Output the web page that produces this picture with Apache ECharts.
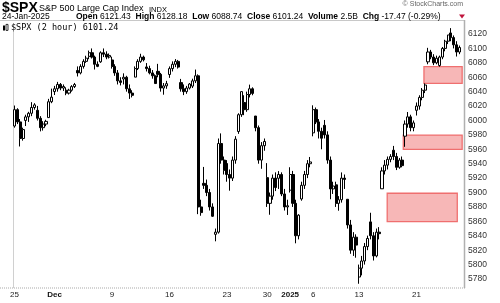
<!DOCTYPE html>
<html><head><meta charset="utf-8">
<script src="https://cdn.jsdelivr.net/npm/echarts@6/dist/echarts.min.js"></script>
<style>html,body{margin:0;padding:0;background:#fff}#c{width:500px;height:303px}</style>
</head><body><div id="c"></div>
<script>
// trading days and number of 2-hour bars in each
const days = [
 ['2024-11-25',4],['2024-11-26',4],['2024-11-27',4],['2024-11-29',2],
 ['2024-12-02',4],['2024-12-03',4],['2024-12-04',4],['2024-12-05',4],['2024-12-06',4],
 ['2024-12-09',4],['2024-12-10',4],['2024-12-11',4],['2024-12-12',4],['2024-12-13',4],
 ['2024-12-16',4],['2024-12-17',4],['2024-12-18',4],['2024-12-19',4],['2024-12-20',4],
 ['2024-12-23',4],['2024-12-24',2],['2024-12-26',4],['2024-12-27',4],
 ['2024-12-30',4],['2024-12-31',4],['2025-01-02',4],['2025-01-03',4],
 ['2025-01-06',4],['2025-01-07',4],['2025-01-08',4],['2025-01-10',4],
 ['2025-01-13',4],['2025-01-14',4],['2025-01-15',4],['2025-01-16',4],['2025-01-17',4],
 ['2025-01-21',4],['2025-01-22',4],['2025-01-23',4],['2025-01-24',4]
];
const sessions = ['09:30','11:30','13:30','15:30'];

const opens = [
 5992.28,6015,5998,5975, 6000.03,6005,6010,6018, 6014.11,6003,5990,5995, 6003.98,6026,
 6040.11,6044,6050,6045, 6041.95,6038,6042,6047, 6069.39,6066,6075,6082, 6089.03,6094,6088,6078, 6081.38,6094,6092,6088,
 6083.99,6075,6066,6055, 6057.59,6060,6044,6038, 6060.15,6072,6082,6088, 6074.29,6072,6066,6062, 6068.17,6064,6045,6048,
 6063.79,6072,6078,6082, 6052.55,6044,6040,6045, 6047.65,6055,6062,5880, 5912.71,5910,5900,5880, 5842.00,5845,5968,5945,
 5940.25,5925,5920,5945, 5984.74,6008, 6024.97,6015,6036,6044, 6006.17,5990,5945,5965,
 5920.67,5885,5895,5920, 5919.74,5925,5898,5880, 5903.26,5925,5885,5840, 5891.07,5910,5925,5940,
 5982.81,6015,5998,5985, 5993.26,5980,5945,5905, 5910.66,5885,5890,5920, 5890.66,5855,5820,5838,
 5782.72,5795,5805,5825, 5859.25,5840,5812,5845, 5905.21,5930,5938,5946, 5958.70,5950,5935,5945, 5978.17,5995,6005,5990,
 6014.12,6020,6032,6042, 6081.39,6095,6088,6080, 6076.32,6088,6100,6110, 6121.43,6115,6105,6095
];
const closes = [
 6015,5998,5975,5987.37, 6005,6010,6018,6021.63, 6003,5990,5995,5998.74, 6026,6032.38,
 6044,6050,6045,6047.15, 6038,6042,6047,6049.88, 6066,6075,6082,6086.49, 6094,6088,6078,6075.11, 6094,6092,6088,6090.27,
 6075,6066,6055,6052.85, 6060,6044,6038,6034.91, 6072,6082,6088,6084.19, 6072,6066,6062,6051.25, 6064,6045,6048,6051.09,
 6072,6078,6082,6074.08, 6044,6040,6045,6050.61, 6055,6062,5880,5872.16, 5910,5900,5880,5867.08, 5845,5968,5945,5930.85,
 5925,5920,5945,5974.07, 6008,6040.04, 6015,6036,6044,6037.59, 5990,5945,5965,5970.84,
 5885,5895,5920,5906.94, 5925,5898,5880,5881.63, 5925,5885,5840,5868.55, 5910,5925,5940,5942.47,
 6015,5998,5985,5975.38, 5980,5945,5905,5909.03, 5885,5890,5920,5918.25, 5855,5820,5838,5827.04,
 5795,5805,5825,5836.22, 5840,5812,5845,5842.91, 5930,5938,5946,5949.91, 5950,5935,5945,5937.34, 5995,6005,5990,5996.66,
 6020,6032,6042,6049.24, 6095,6088,6080,6086.37, 6088,6100,6110,6118.71, 6115,6105,6095,6101.24
];
const lows = [
 5990,5995,5963.91,5972, 5992.27,5998,6006,6015, 6000,5984.87,5986,5992, 6003.98,6024,
 6035.33,6040,6042,6041, 6035.08,6036,6040,6045, 6061.06,6064,6072,6080, 6085,6086,6070.71,6074, 6079.98,6088,6085,6086,
 6072,6062,6050,6048.63, 6050,6040,6029.89,6032, 6060.15,6070,6080,6082, 6068,6064,6058,6051.25, 6060,6040,6035.77,6044,
 6059.14,6068,6074,6072, 6040,6035.19,6037,6043, 6045,6052,5870,5867.79, 5905,5895,5875,5866.07, 5832.30,5843,5940,5925,
 5915,5902.57,5916,5940, 5981.44,6005, 6007.37,6012,6032,6035, 5985,5940,5932.95,5958,
 5880,5869.16,5890,5902, 5905,5895,5875,5868.86, 5900,5880,5829.53,5835, 5888.66,5905,5920,5935,
 5978,5995,5975,5960.01, 5975,5940,5890.68,5898, 5880,5874.78,5886,5905, 5850,5815,5812,5809.55,
 5773.38,5785,5800,5820, 5835,5805.64,5810,5835, 5905.21,5925,5932,5942, 5945,5931.16,5933,5935, 5963.43,5990,5985,5985,
 6006.88,6015,6028,6038, 6078,6085,6076.81,6078, 6074.67,6085,6096,6106, 6110,6100,6088.74,6092
];
const highs = [
 6020.75,6017,6002,5990, 6008,6012,6025.42,6024, 6020.16,6006,5999,6001, 6030,6044.17,
 6048,6053.58,6052,6050, 6046,6044,6049,6052.08, 6075,6078,6085,6089.84, 6097,6099.97,6090,6082, 6096,6099.97,6096,6093,
 6088.51,6078,6070,6060, 6065.40,6062,6050,6042, 6075,6085,6092.59,6090, 6079.68,6076,6070,6064, 6078.58,6066,6052,6055,
 6075,6082,6085.19,6084, 6057.68,6050,6048,6052, 6058,6070.67,6064,5890, 5935.52,5918,5905,5885, 5850,5975,5982.06,5950,
 5945,5932,5950,5978.25, 6010,6040.10, 6035,6040,6049.75,6046, 6006.17,5993,5970,5975,
 5940.79,5900,5925,5928, 5929.74,5928,5905,5890, 5935.09,5930,5890,5870, 5915,5930,5945,5949.34,
 6021.04,6018,6002,5990, 6000.68,5985,5950,5915, 5915,5895,5927.89,5925, 5890.66,5862,5845,5842,
 5800,5812,5830,5840.20, 5871.92,5845,5850,5852, 5935,5945,5950,5953.24, 5964.69,5955,5948,5950, 6000,6011.72,6008,6000,
 6025,6035,6045,6051.51, 6100.81,6098,6092,6090, 6090,6102,6112,6118.73, 6128.18,6118,6110,6104
];

// x-axis tick labels (bar index where each label sits)
const tickIndex = [0,14,34,54,74,88,96,104,120,140];
const tickText  = ['25','Dec','9','16','23','30','2025','6','13','21'];
const tickBold  = ['Dec','2025'];

// shaded price zones (gaps): start/end bar position, low, high
const zoneFrom = [142.6,135.4,129.8];
const zoneTo   = [155.9,155.9,154.2];
const zoneLow  = [6051.5,5960,5859.5];
const zoneHigh = [6074.7,5979.8,5899];

const categories = [];
days.forEach(([d,n]) => { for (let k=0;k<n;k++) categories.push(d+' '+sessions[k]); });
const ohlc = opens.map((o,i)=>[o, closes[i], lows[i], highs[i]]);
const zones = zoneFrom.map((f,i)=>[f, zoneTo[i], zoneLow[i], zoneHigh[i]]);

const FONT = 'Liberation Sans, Arial, sans-serif';
const chart = echarts.init(document.getElementById('c'), null, {renderer:'canvas'});
chart.setOption({
  animation:false,
  backgroundColor:'#fff',
  grid:{left:13, width:448, top:19.6, height:273.8, containLabel:false},
  xAxis:{
    type:'category', data:categories, boundaryGap:true, offset:-6,
    axisLine:{show:false}, axisTick:{show:false}, splitLine:{show:false},
    axisLabel:{
      interval:(i)=>tickIndex.indexOf(i)>=0,
      margin:3, fontSize:8, fontFamily:FONT, color:'#222',
      formatter:(v,i)=>{ const t = tickText[tickIndex.indexOf(i)]; return tickBold.indexOf(t)>=0 ? '{b|'+t+'}' : t; },
      rich:{b:{fontWeight:'bold', fontSize:8, fontFamily:FONT, color:'#111'}}
    }
  },
  yAxis:{
    type:'value', position:'right', min:5760, max:6140, interval:20, scale:true, offset:3,
    axisLine:{show:false},
    axisTick:{show:false},
    splitLine:{show:false},
    axisLabel:{margin:4, fontSize:8.5, fontFamily:FONT, color:'#333',
      formatter:(v)=> (v<=5760||v>=6140)?'':String(v)}
  },
  series:[
    {
      type:'custom', data:zones, clip:false, z:1,
      renderItem:(params, api)=>{
        const band = api.size([1,0])[0];
        const x0 = api.coord([0, api.value(3)])[0];
        const xa = x0 + api.value(0)*band;
        const xb = x0 + api.value(1)*band;
        const yTop = api.coord([0, api.value(3)])[1];
        const yBot = api.coord([0, api.value(2)])[1];
        return {type:'rect', shape:{x:xa, y:yTop, width:xb-xa, height:yBot-yTop},
          style:{fill:'#f7b7b7', stroke:'#ef6f6f', lineWidth:1.3}};
      }
    },
    {
      type:'candlestick', data:ohlc, barWidth:2.6, z:3,
      itemStyle:{color:'#ffffff', color0:'#000000', borderColor:'#000000', borderColor0:'#000000', borderWidth:1}
    }
  ],
  graphic:[
    {type:'line', shape:{x1:0,y1:20.5,x2:464,y2:20.5}, style:{stroke:'#c8c8c8', lineWidth:1}},
    {type:'line', shape:{x1:13.5,y1:30,x2:13.5,y2:288}, style:{stroke:'#d0d0d0', lineWidth:1}},
    {type:'line', shape:{x1:464.5,y1:20,x2:464.5,y2:288}, style:{stroke:'#b0b0b0', lineWidth:1.5}},
    {type:'line', shape:{x1:0,y1:288,x2:465,y2:288}, style:{stroke:'#aaa', lineWidth:1, lineDash:[1,1]}},
    {type:'text', left:2, top:1, style:{text:'$SPX', font:'bold 14px '+FONT, fill:'#000'}},
    {type:'text', left:39, top:4, style:{text:'S&P 500 Large Cap Index', font:'9px '+FONT, fill:'#000'}},
    {type:'text', left:149, top:5.5, style:{text:'INDX', font:'7.5px '+FONT, fill:'#000'}},
    {type:'text', right:37, top:1, style:{text:'\u00A9 StockCharts.com', font:'7px '+FONT, fill:'#666'}},
    {type:'text', left:2, top:12.5, style:{text:'24-Jan-2025', font:'8.5px '+FONT, fill:'#000'}},
    {type:'text', left:76, top:12.5, style:{
      text:'{b|Open} 6121.43  {b|High} 6128.18  {b|Low} 6088.74  {b|Close} 6101.24  {b|Volume} 2.5B  {b|Chg} -17.47 (-0.29%)',
      font:'8.5px '+FONT, fill:'#000',
      rich:{b:{font:'bold 8.5px '+FONT, fill:'#000'}}
    }},
    {type:'polygon', shape:{points:[[459,14.5],[465,14.5],[462,18.5]]}, style:{fill:'#c0143c'}},
    {type:'group', left:3, top:24, children:[
      {type:'rect', shape:{x:0,y:1,width:2,height:5}, style:{fill:'#000'}},
      {type:'rect', shape:{x:3,y:0,width:2,height:6}, style:{fill:'#fff', stroke:'#000', lineWidth:0.8}},
    ]},
    {type:'text', left:11, top:23.5, style:{text:'$SPX (2 hour) 6101.24', font:'8.5px DejaVu Sans Mono, monospace', fill:'#000'}}
  ]
});
</script></body></html>
